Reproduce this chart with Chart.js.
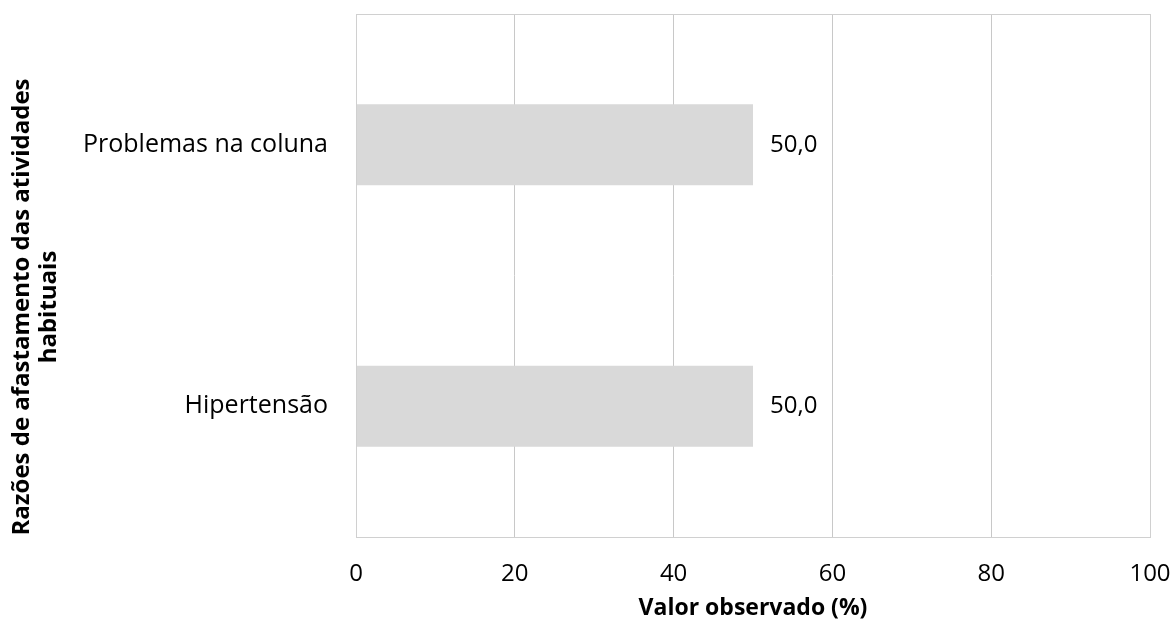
<!DOCTYPE html>
<html>
<head>
<meta charset="utf-8">
<script src="https://cdn.jsdelivr.net/npm/chart.js@4"></script>
<style>
  html, body { margin: 0; padding: 0; background: #fff; }
  #wrap { width: 1175px; height: 626px; }
</style>
</head>
<body>
<div id="wrap"><canvas id="grafico"></canvas></div>
<script>
const categorias = ['Problemas na coluna', 'Hipertensão'];
const valores = [50.0, 50.0];
const ticksX = [0, 20, 40, 60, 80, 100];
const tituloX = 'Valor observado (%)';
const tituloY = ['Razões de afastamento das atividades', 'habituais'];

const fonte = "'Open Sans', sans-serif";

// rotulos de valor a direita das barras
const rotulos = {
  id: 'rotulos',
  afterDatasetsDraw(chart) {
    const ctx = chart.ctx;
    const meta = chart.getDatasetMeta(0);
    ctx.save();
    ctx.font = '24px ' + fonte;
    ctx.fillStyle = '#000';
    ctx.textAlign = 'left';
    ctx.textBaseline = 'middle';
    meta.data.forEach((bar, i) => {
      ctx.fillText(valores[i].toFixed(1).replace('.', ','), bar.x + 17, bar.y);
    });
    ctx.restore();
  }
};

// moldura da area do grafico e titulo do eixo y
const moldura = {
  id: 'moldura',
  afterDraw(chart) {
    const ctx = chart.ctx;
    const a = chart.chartArea;
    ctx.save();
    ctx.strokeStyle = '#d0d0d0';
    ctx.lineWidth = 1;
    ctx.strokeRect(a.left + 0.5, a.top + 0.5, a.right - a.left, a.bottom - a.top);
    ctx.translate(0, 307);
    ctx.rotate(-Math.PI / 2);
    ctx.font = 'bold 24px ' + fonte;
    ctx.fillStyle = '#000';
    ctx.textAlign = 'center';
    ctx.textBaseline = 'middle';
    ctx.fillText(tituloY[0], 0, 22);
    ctx.fillText(tituloY[1], 0, 49);
    ctx.restore();
  }
};

new Chart(document.getElementById('grafico'), {
  type: 'bar',
  data: {
    labels: categorias,
    datasets: [{
      data: valores,
      backgroundColor: '#d9d9d9',
      borderWidth: 0,
      barPercentage: 0.31,
      categoryPercentage: 1
    }]
  },
  options: {
    indexAxis: 'y',
    responsive: true,
    maintainAspectRatio: false,
    animation: false,
    layout: { padding: { left: 0, right: 25, top: 14, bottom: 0 } },
    plugins: {
      legend: { display: false },
      tooltip: { enabled: false }
    },
    scales: {
      x: {
        min: 0,
        max: 100,
        afterBuildTicks: (scale) => { scale.ticks = ticksX.map(v => ({ value: v })); },
        afterFit: (scale) => {
          scale.height = 89;
          scale.paddingLeft = 0;
          scale.paddingRight = 0;
        },
        grid: { color: '#c8c8c8', drawTicks: false },
        border: { display: false },
        ticks: { color: '#000', font: { family: fonte, size: 24 }, padding: 23 },
        title: {
          display: true,
          text: tituloX,
          color: '#000',
          font: { family: fonte, size: 23, weight: 'bold' },
          padding: { top: 0, bottom: 4 }
        }
      },
      y: {
        afterFit: (scale) => {
          scale.width = 356;
          scale.paddingTop = 0;
          scale.paddingBottom = 0;
        },
        grid: { display: false, drawTicks: false },
        border: { display: false },
        ticks: { color: '#000', font: { family: fonte, size: 25 }, padding: 28 }
      }
    }
  },
  plugins: [rotulos, moldura]
});
</script>
</body>
</html>
